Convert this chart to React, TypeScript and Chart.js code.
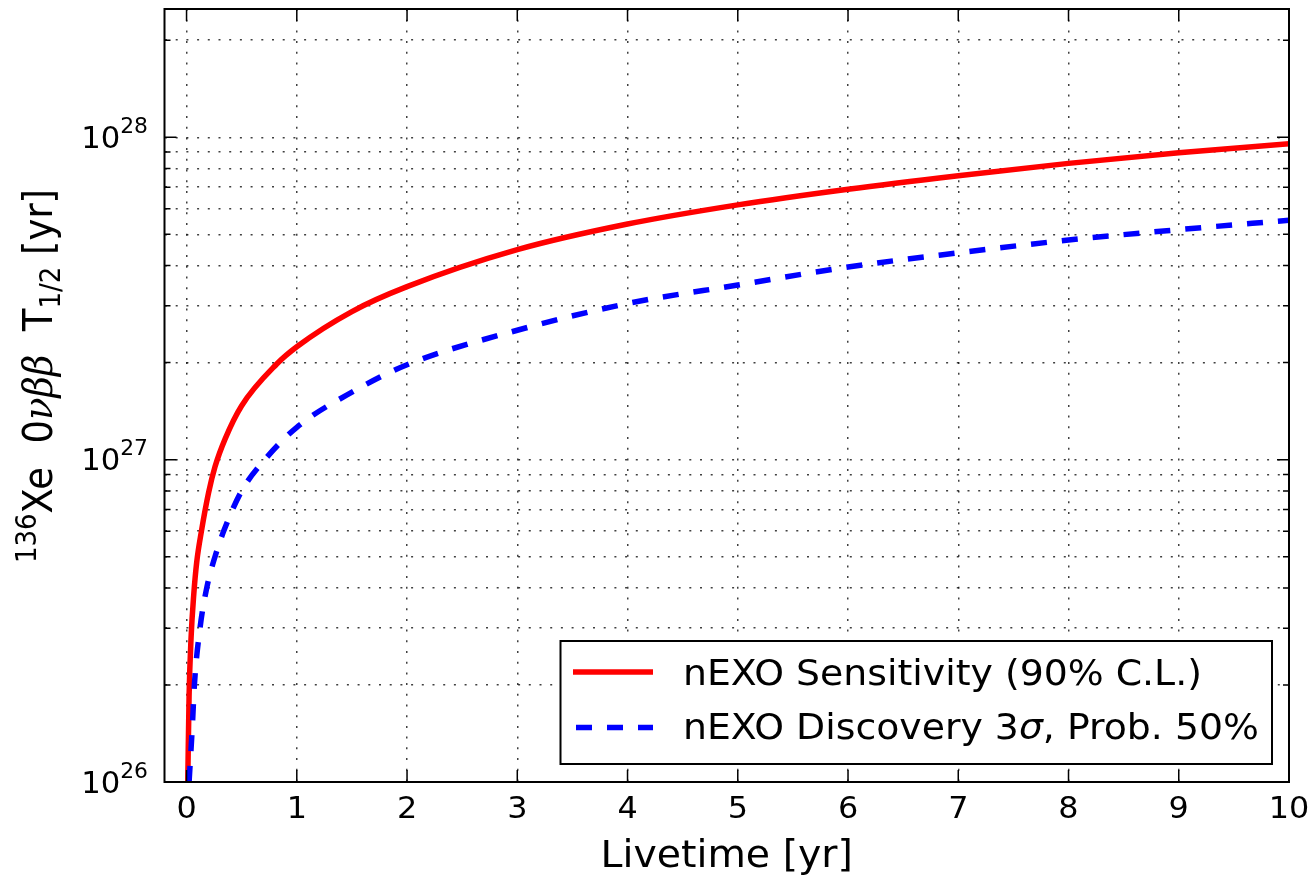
import React, { useEffect, useRef } from 'react';
import { Chart, registerables } from 'chart.js';

Chart.register(...registerables);

// ---- data ----
const livetimeSensitivity = [0.011, 0.023, 0.041, 0.065, 0.092, 0.135, 0.2, 0.258, 0.35, 0.5, 0.818, 1, 1.5, 2, 3, 4, 5, 6, 7, 8, 9, 10];
const sensitivityT12 = [1.0e26, 1.85e26, 2.8e26, 3.8e26, 4.8e26, 6.0e26, 7.9e26, 9.5e26, 1.16e27, 1.47e27, 1.98e27, 2.24e27, 2.88e27, 3.44e27, 4.48e27, 5.38e27, 6.17e27, 6.9e27, 7.6e27, 8.3e27, 8.95e27, 9.55e27];

const livetimeDiscovery = [0.023, 0.053, 0.071, 0.122, 0.183, 0.258, 0.345, 0.5, 0.71, 1, 1.53, 2, 3, 4, 5, 6, 7, 8, 9, 10];
const discoveryT12 = [1.0e26, 1.5e26, 2.0e26, 3.0e26, 4.0e26, 5.0e26, 6.1e26, 8.0e26, 1.0e27, 1.26e27, 1.64e27, 1.97e27, 2.52e27, 3.05e27, 3.48e27, 3.96e27, 4.38e27, 4.8e27, 5.17e27, 5.53e27];

const seriesLabels = ['nEXO Sensitivity (90% C.L.)', 'nEXO Discovery 3σ, Prob. 50%'];
const seriesColors = ['#ff0000', '#0000ff'];

const xTickValues = [0, 1, 2, 3, 4, 5, 6, 7, 8, 9, 10];
const yMajorExponents = [26, 27, 28];
const yMinorMultipliers = [2, 3, 4, 5, 6, 7, 8, 9];
const yGridValues: number[] = [];
yMajorExponents.forEach((e) => {
  yGridValues.push(Math.pow(10, e));
  yMinorMultipliers.forEach((m) => {
    const v = m * Math.pow(10, e);
    if (v <= 2.5e28) yGridValues.push(v);
  });
});

const xTitle = 'Livetime [yr]';
const X_MIN = -0.2;
const X_MAX = 10;
const Y_MIN = 1e26;
const Y_MAX = 2.5e28;

const FONT = '"DejaVu Sans", Verdana, sans-serif';
const STRETCH = 1.08; // text in the reference is slightly wider than the plain font

type Seg = { t: string; size: number; shift?: number; italic?: boolean; family?: string };

function measureSegs(ctx: CanvasRenderingContext2D, segs: Seg[]): number {
  let w = 0;
  for (const s of segs) {
    ctx.font = `${s.italic ? 'italic ' : ''}${s.size}px ${s.family || FONT}`;
    w += ctx.measureText(s.t).width;
  }
  return w;
}

function drawSegs(ctx: CanvasRenderingContext2D, x: number, y: number, segs: Seg[]): number {
  let cx = x;
  for (const s of segs) {
    ctx.font = `${s.italic ? 'italic ' : ''}${s.size}px ${s.family || FONT}`;
    const w = ctx.measureText(s.t).width;
    ctx.fillText(s.t, cx, y - (s.shift || 0));
    cx += w;
  }
  return cx - x;
}

function drawText(ctx: CanvasRenderingContext2D, x: number, y: number, segs: Seg[], align: string, sx = STRETCH) {
  const w = measureSegs(ctx, segs) * sx;
  const startX = align === 'center' ? x - w / 2 : align === 'right' ? x - w : x;
  ctx.save();
  ctx.textAlign = 'left';
  ctx.textBaseline = 'alphabetic';
  ctx.translate(startX, y);
  ctx.scale(sx, 1);
  drawSegs(ctx, 0, 0, segs);
  ctx.restore();
}

const overlayPlugin = {
  id: 'overlay',
  afterDraw(chart: any) {
    const ctx: CanvasRenderingContext2D = chart.ctx;
    const { left, right, top, bottom } = chart.chartArea;
    const xs = chart.scales.x;
    const ys = chart.scales.y;
    ctx.save();
    ctx.fillStyle = '#000';
    ctx.strokeStyle = '#000';

    // tick marks (inward) on all four sides
    ctx.lineWidth = 1.5;
    ctx.beginPath();
    xTickValues.forEach((v) => {
      const px = xs.getPixelForValue(v);
      ctx.moveTo(px, bottom);
      ctx.lineTo(px, bottom - 12);
      ctx.moveTo(px, top);
      ctx.lineTo(px, top + 12);
    });
    yGridValues.forEach((v) => {
      const py = ys.getPixelForValue(v);
      const major = yMajorExponents.some((e) => Math.abs(Math.pow(10, e) - v) < 1e20);
      const len = major ? 12 : 6;
      ctx.moveTo(left, py);
      ctx.lineTo(left + len, py);
      ctx.moveTo(right, py);
      ctx.lineTo(right - len, py);
    });
    ctx.stroke();

    // frame
    ctx.lineWidth = 2;
    ctx.strokeRect(left, top, right - left, bottom - top);

    // x tick labels
    xTickValues.forEach((v) => {
      drawText(ctx, xs.getPixelForValue(v), 818, [{ t: String(v), size: 29.5 }], 'center');
    });

    // y tick labels 10^n
    yMajorExponents.forEach((e) => {
      const py = ys.getPixelForValue(Math.pow(10, e));
      drawText(ctx, 148, py + 10.8, [
        { t: '10', size: 29.5 },
        { t: String(e), size: 21, shift: 15 },
      ], 'right', 1.04);
    });

    // x title
    drawText(ctx, (left + right) / 2, 867, [{ t: xTitle, size: 36.5 }], 'center');

    // y title (rotated, glyph height stretched in screen x)
    const ySegs: Seg[] = [
      { t: '136', size: 26, shift: 14 },
      { t: 'Xe', size: 37 },
      { t: '  ', size: 37 },
      { t: '0', size: 37 },
      { t: 'νββ', size: 37, italic: true, family: '"DejaVu Serif", serif' },
      { t: '  ', size: 37 },
      { t: 'T', size: 37 },
      { t: '1/2', size: 26, shift: -7 },
      { t: ' ', size: 37 },
      { t: '[yr]', size: 37 },
    ];
    const tw = measureSegs(ctx, ySegs);
    ctx.save();
    ctx.textAlign = 'left';
    ctx.textBaseline = 'alphabetic';
    ctx.translate(52, 376 + tw / 2);
    ctx.rotate(-Math.PI / 2);
    ctx.scale(1, 1.12);
    drawSegs(ctx, 0, 0, ySegs);
    ctx.restore();

    // legend
    const lx = 560.5, ly = 641, lw = 1272 - 560.5, lh = 764 - 641;
    ctx.fillStyle = '#fff';
    ctx.fillRect(lx, ly, lw, lh);
    ctx.lineWidth = 2;
    ctx.strokeStyle = '#000';
    ctx.strokeRect(lx, ly, lw, lh);
    const rows = [
      { lineY: 672, baseY: 684.5 },
      { lineY: 727.5, baseY: 738.5 },
    ];
    chart.data.datasets.forEach((ds: any, i: number) => {
      const r = rows[i];
      ctx.save();
      ctx.strokeStyle = ds.borderColor;
      ctx.lineWidth = 5.5;
      ctx.setLineDash(ds.borderDash || []);
      ctx.lineDashOffset = ds.borderDash ? -3 : 0;
      ctx.beginPath();
      ctx.moveTo(573, r.lineY);
      ctx.lineTo(653, r.lineY);
      ctx.stroke();
      ctx.restore();
      ctx.fillStyle = '#000';
      const label: string = ds.label;
      const parts = label.split('σ');
      const segs: Seg[] = [];
      parts.forEach((p, k) => {
        segs.push({ t: p, size: 35 });
        if (k < parts.length - 1) segs.push({ t: 'σ', size: 35, italic: true });
      });
      drawText(ctx, 683, r.baseY, segs, 'left');
    });

    ctx.restore();
  },
};

export default function App() {
  const ref = useRef<HTMLCanvasElement>(null);
  useEffect(() => {
    const canvas = ref.current;
    if (!canvas) return;
    const chart = new Chart(canvas, {
      type: 'line',
      data: {
        datasets: [
          {
            label: seriesLabels[0],
            data: livetimeSensitivity.map((x, i) => ({ x, y: sensitivityT12[i] })),
            borderColor: seriesColors[0],
            borderWidth: 5.5,
            pointRadius: 0,
            fill: false,
            cubicInterpolationMode: 'monotone',
            order: 1,
          },
          {
            label: seriesLabels[1],
            data: livetimeDiscovery.map((x, i) => ({ x, y: discoveryT12[i] })),
            borderColor: seriesColors[1],
            borderWidth: 5.5,
            borderDash: [16, 15],
            pointRadius: 0,
            fill: false,
            cubicInterpolationMode: 'monotone',
            order: 0,
          },
        ],
      } as any,
      options: {
        responsive: false,
        animation: false,
        devicePixelRatio: 1,
        layout: { padding: { left: 164.5, right: 20, top: 9, bottom: 95 } },
        plugins: { legend: { display: false }, tooltip: { enabled: false } },
        scales: {
          x: {
            type: 'linear',
            min: X_MIN,
            max: X_MAX,
            afterBuildTicks: (s: any) => {
              s.ticks = xTickValues.map((v) => ({ value: v }));
            },
            ticks: { display: false },
            grid: { color: 'rgba(0,0,0,0.75)', lineWidth: 1.5, drawTicks: false },
            border: { display: false, dash: [2, 8.7] },
          },
          y: {
            type: 'logarithmic',
            min: Y_MIN,
            max: Y_MAX,
            afterBuildTicks: (s: any) => {
              s.ticks = yGridValues.map((v) => ({ value: v }));
            },
            ticks: { display: false },
            grid: { color: 'rgba(0,0,0,0.75)', lineWidth: 1.5, drawTicks: false },
            border: { display: false, dash: [2, 8.7] },
          },
        },
      } as any,
      plugins: [overlayPlugin],
    });
    return () => chart.destroy();
  }, []);
  return (
    <div style={{ position: 'fixed', left: 0, top: 0, width: 1309, height: 877, background: '#fff' }}>
      <canvas ref={ref} width={1309} height={877} style={{ display: 'block' }} />
    </div>
  );
}
